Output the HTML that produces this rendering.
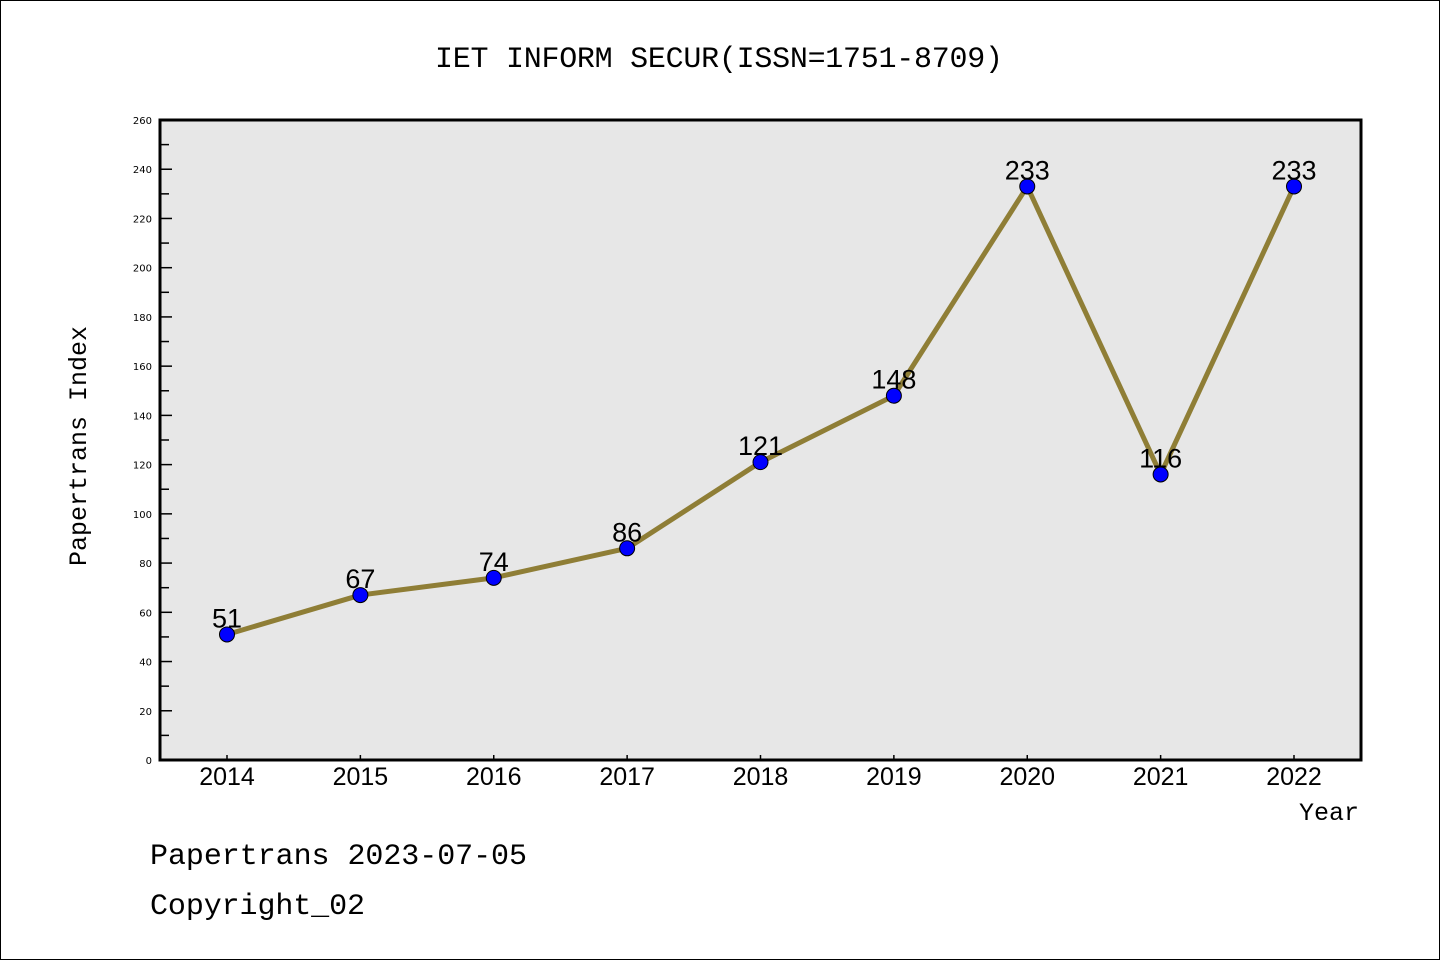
<!DOCTYPE html>
<html><head><meta charset="utf-8"><style>
html,body{margin:0;padding:0;background:#fff;}
svg{display:block;}
</style></head><body>
<svg id="chart" width="1440" height="960" xmlns="http://www.w3.org/2000/svg">
<rect x="0.5" y="0.5" width="1439" height="959" fill="#fff" stroke="#000" stroke-width="1"/>
<text x="719" y="67" text-anchor="middle" font-family="Liberation Mono, monospace" font-size="30" textLength="568">IET INFORM SECUR(ISSN=1751-8709)</text>
<rect x="160" y="120" width="1201" height="640" fill="#e7e7e7"/>
<g id="axes"></g>
<g id="series"></g>
<rect x="160" y="120" width="1201" height="640" fill="none" stroke="#000" stroke-width="3"/>
<text x="86" y="446" text-anchor="middle" transform="rotate(-90 86 446)" font-family="Liberation Mono, monospace" font-size="25" textLength="240">Papertrans Index</text>
<text x="1359" y="820" text-anchor="end" font-family="Liberation Mono, monospace" font-size="25">Year</text>
<text x="150" y="864" font-family="Liberation Mono, monospace" font-size="30" textLength="377">Papertrans 2023-07-05</text>
<text x="150" y="914" font-family="Liberation Mono, monospace" font-size="30" textLength="215">Copyright_02</text>
</svg>
<script>
const years = [2014,2015,2016,2017,2018,2019,2020,2021,2022];
const values = [51,67,74,86,121,148,233,116,233];
const yTicks = [0,20,40,60,80,100,120,140,160,180,200,220,240,260];
const NS = "http://www.w3.org/2000/svg";
const L=160,R=1361,T=120,B=760,yMax=260;
const xs = i => 227 + i*(1294-227)/(years.length-1);
const ys = v => B - v/yMax*(B-T);
function mk(tag, attrs, parent){const e=document.createElementNS(NS,tag);for(const k in attrs)e.setAttribute(k,attrs[k]);parent.appendChild(e);return e;}
const axes=document.getElementById('axes'), series=document.getElementById('series');
yTicks.forEach(v=>{
  const y=ys(v);
  const t=mk('line',{x1:L,x2:L+12,y1:y,y2:y,stroke:'#000','stroke-width':1.5},axes);
  
  
  const lb=mk('text',{x:152,y:y+4,'text-anchor':'end','font-family':'DejaVu Sans, sans-serif','font-size':10},axes);
  lb.textContent=v;
  
  
  if(v<yMax){const m=ys(v+10);
    const mt=mk('line',{x1:L,x2:L+9,y1:m,y2:m,stroke:'#000','stroke-width':1.5},axes);
    
    }
});
years.forEach((yr,i)=>{
  const x=xs(i);
  const t=mk('line',{x1:x,x2:x,y1:B-5,y2:B,stroke:'#000','stroke-width':1.5},axes);
  
  
  const lb=mk('text',{x:x,y:785,'text-anchor':'middle','font-family':'Liberation Sans, sans-serif','font-size':25},axes);
  lb.textContent=yr;
  
  
});
const pl=mk('polyline',{points:values.map((v,i)=>xs(i)+','+ys(v)).join(' '),fill:'none',stroke:'#8f7e36','stroke-width':5,'stroke-linejoin':'round'},series);


values.forEach((v,i)=>{
  const c=mk('circle',{cx:xs(i),cy:ys(v),r:7.5,fill:'#0000ff',stroke:'#000','stroke-width':1},series);
  
  
});
values.forEach((v,i)=>{
  const lb=mk('text',{x:xs(i),y:ys(v)-7,'text-anchor':'middle','font-family':'Liberation Sans, sans-serif','font-size':27},series);
  lb.textContent=v;
  
  
});
</script>
</body></html>
